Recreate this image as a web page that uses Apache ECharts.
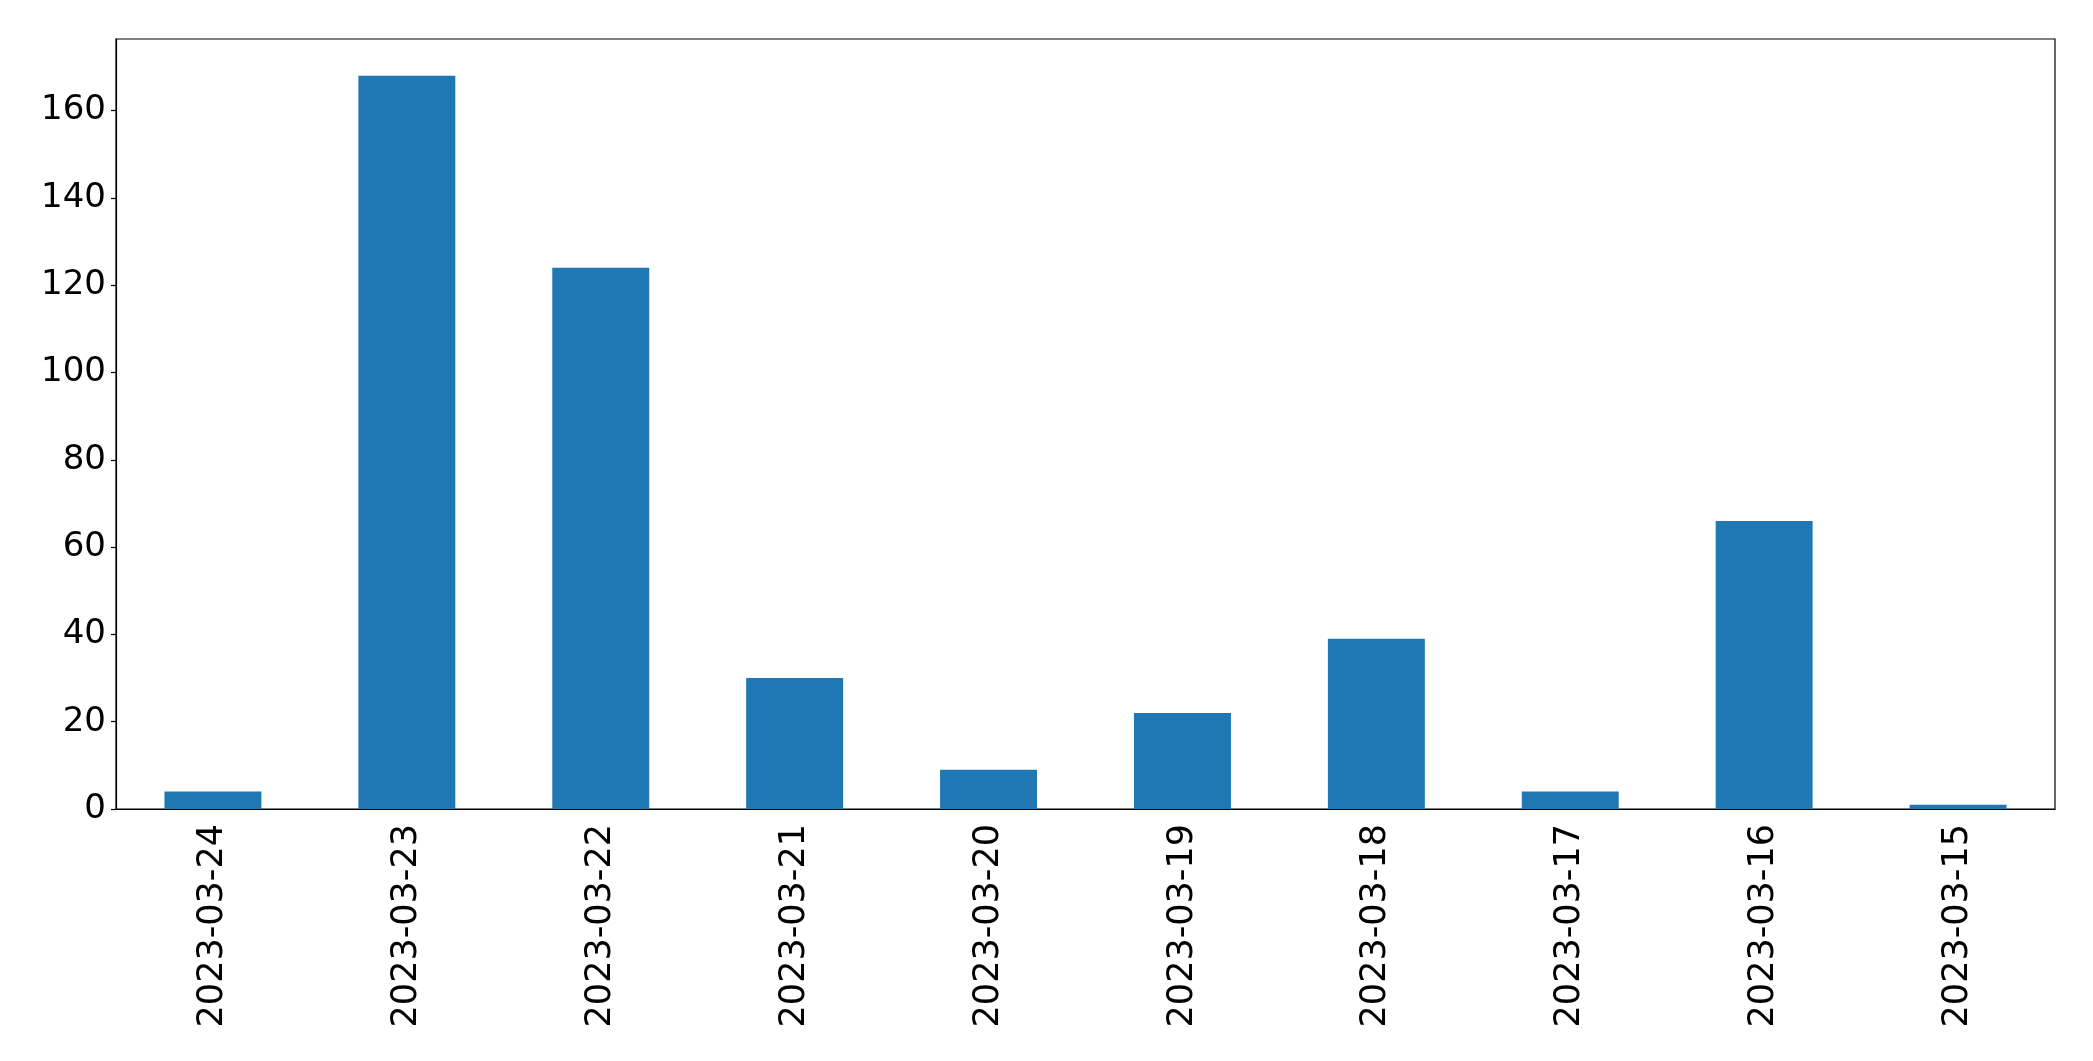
<!DOCTYPE html>
<html>
<head>
<meta charset="utf-8">
<script src="https://cdn.jsdelivr.net/npm/echarts@6/dist/echarts.min.js"></script>
<style>
html, body { margin: 0; padding: 0; background: #fff; }
#chart { width: 2093px; height: 1061px; }
</style>
</head>
<body>
<div id="chart"></div>
<script>
var dates = ['2023-03-24', '2023-03-23', '2023-03-22', '2023-03-21', '2023-03-20',
	'2023-03-19', '2023-03-18', '2023-03-17', '2023-03-16', '2023-03-15'];
var counts = [4, 168, 124, 30, 9, 22, 39, 4, 66, 1];
var yTicks = [0, 20, 40, 60, 80, 100, 120, 140, 160];

var myChart = echarts.init(document.getElementById('chart'));

var option = {
	backgroundColor: '#fff',
	animation: false,
	grid: {
		left: 116,
		right: 38,
		top: 39,
		bottom: 252,
		show: true,
		borderColor: '#000',
		borderWidth: 1.2
	},
	xAxis: {
		type: 'category',
		data: dates,
		boundaryGap: true,
		axisLine: { lineStyle: { color: '#000', width: 1.2 } },
		axisTick: {
			alignWithLabel: true,
			length: 5,
			lineStyle: { color: '#000', width: 1.2 }
		},
		axisLabel: {
			rotate: 90,
			interval: 0,
			margin: 15,
			color: '#000',
			fontSize: 35,
			fontFamily: 'DejaVu Sans'
		},
		splitLine: { show: false }
	},
	yAxis: {
		type: 'value',
		min: 0,
		max: 176.4, // matplotlib 5% headroom over 168
		interval: 20,
		axisLine: { show: true, lineStyle: { color: '#000', width: 1.2 } },
		axisTick: {
			show: true,
			length: 5,
			customValues: yTicks,
			lineStyle: { color: '#000', width: 1.2 }
		},
		axisLabel: {
			margin: 10,
			color: '#000',
			fontSize: 34,
			fontFamily: 'DejaVu Sans',
			padding: [6, 0, 0, 0],
			customValues: yTicks
		},
		splitLine: { show: false }
	},
	series: [{
		type: 'bar',
		data: counts,
		barWidth: '50%',
		itemStyle: { color: '#1f77b4' }
	}]
};
myChart.setOption(option);
</script>
</body>
</html>
